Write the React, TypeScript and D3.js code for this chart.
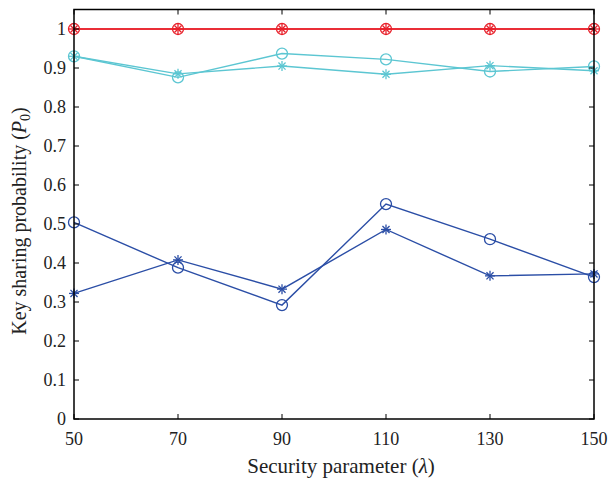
import React from "react";
import * as d3 from "d3";

const xValues = [50, 70, 90, 110, 130, 150];
const redCircle = [1, 1, 1, 1, 1, 1];
const redStar = [1, 1, 1, 1, 1, 1];
const cyanCircle = [0.93, 0.876, 0.937, 0.922, 0.891, 0.904];
const cyanStar = [0.93, 0.885, 0.905, 0.884, 0.906, 0.893];
const blueCircle = [0.504, 0.388, 0.292, 0.551, 0.461, 0.364];
const blueStar = [0.322, 0.408, 0.333, 0.486, 0.367, 0.372];
const xTicks = [50, 70, 90, 110, 130, 150];
const yTicks = [0, 0.1, 0.2, 0.3, 0.4, 0.5, 0.6, 0.7, 0.8, 0.9, 1];

const series = [
  { values: cyanCircle, color: "#5cc6d2", marker: "o" },
  { values: cyanStar, color: "#5cc6d2", marker: "*" },
  { values: blueCircle, color: "#2b4ea6", marker: "o" },
  { values: blueStar, color: "#2b4ea6", marker: "*" },
  { values: redCircle, color: "#e8202a", marker: "o" },
  { values: redStar, color: "#e8202a", marker: "*" },
];

export default function App() {
  const W = 612, H = 485;
  const L = 74, R = 594, T = 9.5, B = 419;
  const x = d3.scaleLinear().domain([50, 150]).range([L, R]);
  const y = d3.scaleLinear().domain([0, 1.05]).range([B, T]);
  const line = d3.line<number>().x((_, i) => x(xValues[i])).y((d) => y(d));
  const font = "'Liberation Serif', 'DejaVu Serif', serif";
  const tl = 5;

  const star = (cx: number, cy: number, color: string, key: string) => {
    const r = 5;
    const segs = [0, 45, 90, 135].map((a) => {
      const rad = (a * Math.PI) / 180;
      return (
        <line key={a} x1={cx - r * Math.cos(rad)} y1={cy - r * Math.sin(rad)} x2={cx + r * Math.cos(rad)} y2={cy + r * Math.sin(rad)} stroke={color} strokeWidth={1.3} />
      );
    });
    return <g key={key}>{segs}</g>;
  };

  return (
    <svg width={W} height={H} style={{ display: "block", position: "absolute", left: 0, top: 0 }}>
      <rect width={W} height={H} fill="#fff" />
      {series.map((s, si) => (
        <g key={si}>
          <path d={line(s.values) || ""} fill="none" stroke={s.color} strokeWidth={1.4} />
          {s.values.map((v, i) =>
            s.marker === "o" ? (
              <circle key={i} cx={x(xValues[i])} cy={y(v)} r={5.5} fill="none" stroke={s.color} strokeWidth={1.3} />
            ) : (
              star(x(xValues[i]), y(v), s.color, String(i))
            )
          )}
        </g>
      ))}
      <rect x={L} y={T} width={R - L} height={B - T} fill="none" stroke="#000" strokeWidth={1.5} />
      {xTicks.map((t) => (
        <g key={t}>
          <line x1={x(t)} x2={x(t)} y1={B} y2={B - tl} stroke="#000" />
          <line x1={x(t)} x2={x(t)} y1={T} y2={T + tl} stroke="#000" />
          <text x={x(t)} y={445} textAnchor="middle" fontFamily={font} fontSize={18} fill="#222">{t}</text>
        </g>
      ))}
      {yTicks.map((t) => (
        <g key={t}>
          <line x1={L} x2={L + tl} y1={y(t)} y2={y(t)} stroke="#000" />
          <line x1={R} x2={R - tl} y1={y(t)} y2={y(t)} stroke="#000" />
          <text x={66} y={y(t) + 6} textAnchor="end" fontFamily={font} fontSize={18} fill="#222">{t}</text>
        </g>
      ))}
      <text x={341} y={473} textAnchor="middle" fontFamily={font} fontSize={21} fill="#222">
        Security parameter (<tspan fontStyle="italic">λ</tspan>)
      </text>
      <text transform="translate(26,221) rotate(-90)" textAnchor="middle" fontFamily={font} fontSize={20} fill="#222">
        Key sharing probability (<tspan fontStyle="italic">P</tspan><tspan fontSize={14} dy={4}>0</tspan><tspan dy={-4}>)</tspan>
      </text>
    </svg>
  );
}
